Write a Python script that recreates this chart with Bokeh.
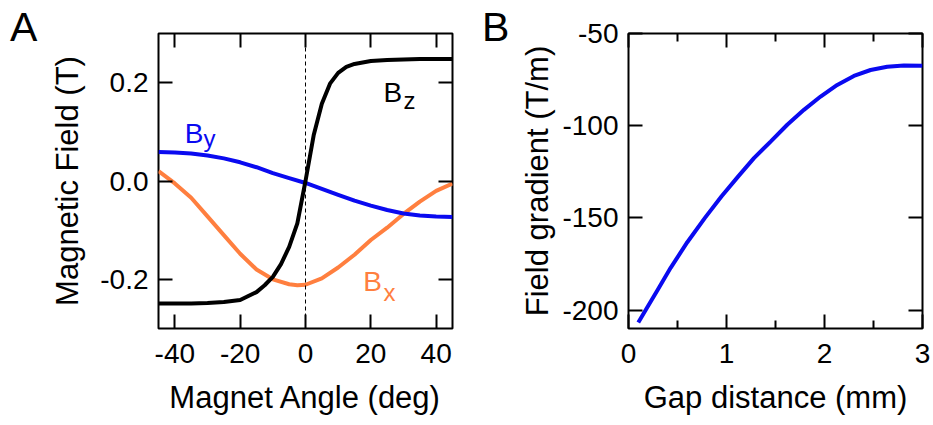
from bokeh.plotting import figure
from bokeh.models import Range1d, LinearAxis, FixedTicker, Span, Label, Div
from bokeh.layouts import row
from bokeh.embed import file_html
from bokeh.resources import INLINE

# ---------------- data: panel A ----------------
angle_z = [-45, -40, -35, -30, -25, -20, -15, -12.5, -10, -7.5, -5, -2.5, 0,
           2.5, 5, 7.5, 10, 12.5, 15, 20, 25, 30, 35, 40, 45]
bz = [-0.249, -0.249, -0.249, -0.248, -0.246, -0.242, -0.226, -0.212, -0.195,
      -0.169, -0.134, -0.086, 0.000, 0.093, 0.157, 0.198, 0.220, 0.232, 0.238,
      0.244, 0.246, 0.247, 0.248, 0.248, 0.248]

angle_y = [-45, -40, -35, -30, -25, -20, -15, -10, -5, 0, 5, 10, 15, 20, 25,
           30, 35, 40, 45]
by = [0.059, 0.058, 0.056, 0.052, 0.046, 0.038, 0.028, 0.016, 0.006, -0.004,
      -0.016, -0.028, -0.040, -0.050, -0.059, -0.066, -0.070, -0.072, -0.073]

angle_x = [-45, -40, -35, -30, -25, -20, -15, -10, -5, -2.5, 0, 5, 10, 15, 20,
           25, 30, 35, 40, 45]
bx = [0.020, -0.005, -0.034, -0.072, -0.110, -0.148, -0.180, -0.200, -0.210,
      -0.212, -0.211, -0.198, -0.176, -0.150, -0.120, -0.095, -0.067, -0.042,
      -0.020, -0.005]

a_xticks = [-40, -20, 0, 20, 40]
a_xlabels = ["-40", "-20", "0", "20", "40"]
a_yticks = [-0.2, 0.0, 0.2]
a_ylabels = ["-0.2", "0.0", "0.2"]

# ---------------- data: panel B ----------------
gap = [0.1, 0.18, 0.3, 0.43, 0.6, 0.78, 0.95, 1.12, 1.28, 1.45, 1.62, 1.79,
       1.96, 2.13, 2.3, 2.47, 2.64, 2.81, 3.0]
grad = [-206.8, -199.6, -188.8, -177.1, -163.2, -150.0, -138.3, -127.5,
        -117.6, -108.6, -99.5, -91.4, -84.2, -77.9, -73.0, -69.8, -68.0,
        -67.3, -67.5]

b_xticks = [0, 1, 2, 3]
b_xlabels = ["0", "1", "2", "3"]
b_xminor = [0.5, 1.5, 2.5]
b_yticks = [-200, -150, -100, -50]
b_ylabels = ["-200", "-150", "-100", "-50"]

FONT = "Liberation Sans"
TICK_FS = "28px"
TITLE_FS = "31px"
BLUE = "#0a0af0"
ORANGE = "#ff7f3f"


def style_axis(ax, labels=True):
    ax.axis_line_color = None
    ax.major_tick_in = 14
    ax.major_tick_out = 0
    ax.major_tick_line_width = 2
    ax.major_tick_line_color = "black"
    ax.minor_tick_in = 8
    ax.minor_tick_out = 0
    ax.minor_tick_line_width = 2
    ax.minor_tick_line_color = "black"
    ax.major_label_text_font = FONT
    if labels:
        ax.major_label_text_font_size = TICK_FS
        ax.major_label_text_color = "black"
    else:
        ax.major_label_text_font_size = "1px"
        ax.major_label_text_color = None
        ax.major_label_standoff = 0
    ax.axis_label_text_font = FONT
    ax.axis_label_text_font_size = TITLE_FS
    ax.axis_label_text_font_style = "normal"
    ax.axis_label_text_color = "black"


def make_fig(width, left, right, xr, yr):
    p = figure(width=width, height=425, output_backend="svg",
               toolbar_location=None, x_range=xr, y_range=yr,
               min_border_left=left, min_border_right=right,
               min_border_top=33, min_border_bottom=97)
    p.xgrid.visible = False
    p.ygrid.visible = False
    p.outline_line_color = "black"
    p.outline_line_width = 2
    p.background_fill_color = "white"
    p.border_fill_color = "white"
    return p


def letter_div(letter, width, pad_left):
    html = ('<div style="font-family: \'Liberation Sans\', Arial, sans-serif; '
            'font-size: 41px; line-height: 1.15; color: black; '
            'padding-left: %dpx; padding-top: 4px; margin: 0;">%s</div>'
            % (pad_left, letter))
    return Div(text=html, width=width, height=425, margin=0)


# ---------------- panel A ----------------
pa = make_fig(423, 111, 18, Range1d(-45, 45), Range1d(-0.3, 0.3))
pa.xaxis.ticker = FixedTicker(ticks=a_xticks, minor_ticks=[])
pa.yaxis.ticker = FixedTicker(ticks=a_yticks, minor_ticks=[])
pa.xaxis.major_label_overrides = {t: s for t, s in zip(a_xticks, a_xlabels)}
pa.yaxis.major_label_overrides = {t: s for t, s in zip(a_yticks, a_ylabels)}
pa.xaxis.axis_label = "Magnet Angle (deg)"
pa.yaxis.axis_label = "Magnetic Field (T)"
for ax in pa.xaxis + pa.yaxis:
    style_axis(ax)
pa.xaxis.major_label_standoff = 15
pa.yaxis.major_label_standoff = 10
pa.xaxis.axis_label_standoff = 14
pa.yaxis.axis_label_standoff = 12
ra = LinearAxis(ticker=FixedTicker(ticks=a_yticks, minor_ticks=[]))
ta = LinearAxis(ticker=FixedTicker(ticks=a_xticks, minor_ticks=[]))
style_axis(ra, labels=False)
style_axis(ta, labels=False)
pa.add_layout(ra, "right")
pa.add_layout(ta, "above")

pa.add_layout(Span(location=0, dimension="height", line_color="black",
                   line_width=1, line_dash="4 3"))
pa.line(angle_x, bx, line_color=ORANGE, line_width=4)
pa.line(angle_y, by, line_color=BLUE, line_width=4)
pa.line(angle_z, bz, line_color="black", line_width=4)


def add_b_label(p, xb, yb, xs, ys, sub, color):
    p.add_layout(Label(x=xb, y=yb, text="B", text_font=FONT,
                       text_font_size="28px", text_color=color,
                       text_baseline="alphabetic"))
    p.add_layout(Label(x=xs, y=ys, text=sub, text_font=FONT,
                       text_font_size="24px", text_color=color,
                       text_baseline="alphabetic"))


add_b_label(pa, 23.9, 0.181, 30.0, 0.164, "z", "black")
add_b_label(pa, -37.0, 0.0975, -31.2, 0.087, "y", BLUE)
add_b_label(pa, 17.7, -0.205, 23.9, -0.227, "x", ORANGE)

# ---------------- panel B ----------------
pb = make_fig(416, 110, 11, Range1d(0, 3), Range1d(-210, -50))
pb.xaxis.ticker = FixedTicker(ticks=b_xticks, minor_ticks=b_xminor)
pb.yaxis.ticker = FixedTicker(ticks=b_yticks, minor_ticks=[])
pb.xaxis.major_label_overrides = {t: s for t, s in zip(b_xticks, b_xlabels)}
pb.yaxis.major_label_overrides = {t: s for t, s in zip(b_yticks, b_ylabels)}
pb.xaxis.axis_label = "Gap distance (mm)"
pb.yaxis.axis_label = "Field gradient (T/m)"
for ax in pb.xaxis + pb.yaxis:
    style_axis(ax)
pb.xaxis.major_label_standoff = 15
pb.yaxis.major_label_standoff = 10
pb.xaxis.axis_label_standoff = 14
pb.yaxis.axis_label_standoff = 4
rb = LinearAxis(ticker=FixedTicker(ticks=b_yticks, minor_ticks=[]))
tb = LinearAxis(ticker=FixedTicker(ticks=b_xticks, minor_ticks=b_xminor))
style_axis(rb, labels=False)
style_axis(tb, labels=False)
pb.add_layout(rb, "right")
pb.add_layout(tb, "above")
pb.line(gap, grad, line_color=BLUE, line_width=4)

layout = row(letter_div("A", 47, 10), pa, letter_div("B", 47, 12), pb)
open("out.html", "w").write(file_html(layout, INLINE))
